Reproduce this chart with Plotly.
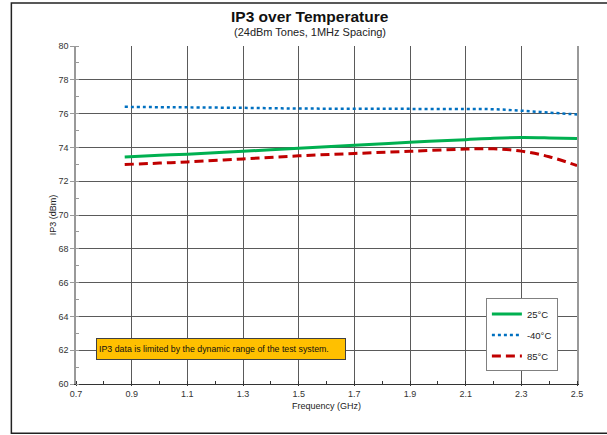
import plotly.graph_objects as go

# frequency points (GHz)
freq = [0.875, 1.0, 1.1, 1.3, 1.5, 1.7, 1.9, 2.1, 2.2, 2.3, 2.4, 2.5]

# IP3 (dBm) per temperature
ip3_25 = [73.43, 73.53, 73.60, 73.77, 73.95, 74.12, 74.30, 74.46, 74.54, 74.58, 74.56, 74.52]
ip3_m40 = [76.40, 76.38, 76.37, 76.34, 76.30, 76.29, 76.28, 76.27, 76.26, 76.17, 76.06, 75.95]
ip3_85 = [72.99, 73.07, 73.14, 73.32, 73.50, 73.64, 73.77, 73.90, 73.92, 73.78, 73.45, 72.92]

x_ticks = [0.7, 0.9, 1.1, 1.3, 1.5, 1.7, 1.9, 2.1, 2.3, 2.5]
y_ticks = [60, 62, 64, 66, 68, 70, 72, 74, 76, 78, 80]

font_family = "Liberation Sans, Arial, sans-serif"

fig = go.Figure()

fig.add_trace(go.Scatter(x=freq, y=ip3_25, mode='lines', name='25°C', legendgroup='a',
                         line=dict(color='#00B050', width=3, shape='spline')))
fig.add_trace(go.Scatter(x=freq, y=ip3_m40, mode='lines', name='-40°C', legendgroup='b',
                         line=dict(color='#0070C0', width=2.5, dash='dot', shape='spline')))
fig.add_trace(go.Scatter(x=freq, y=ip3_85, mode='lines', name='85°C', legendgroup='c',
                         line=dict(color='#C00000', width=3, dash='9px,5px', shape='spline')))

# chart title + subtitle (centred on the whole chart area, not the plot)
fig.add_annotation(text='<b>IP3 over Temperature</b>', xref='paper', yref='paper',
                   x=0.468, y=1.088, xanchor='center', yanchor='middle', showarrow=False,
                   font=dict(size=15.5, color='#111', family=font_family))
fig.add_annotation(text='(24dBm Tones, 1MHz Spacing)', xref='paper', yref='paper',
                   x=0.468, y=1.041, xanchor='center', yanchor='middle', showarrow=False,
                   font=dict(size=11, color='#222', family=font_family))

# note box
fig.add_annotation(text='IP3 data is limited by the dynamic range of the test system.',
                   xref='paper', yref='paper', x=0.2894, y=0.103,
                   xanchor='center', yanchor='middle', showarrow=False,
                   width=244, height=16, align='left', borderpad=2,
                   bgcolor='#FFC000', bordercolor='#404040', borderwidth=1,
                   font=dict(size=8.8, color='#111', family=font_family))

# outer chart border
fig.add_shape(type='rect', xref='paper', yref='paper',
              x0=-0.129, x1=1.08, y0=-0.146, y1=1.127,
              line=dict(color='#222', width=1.5))

fig.update_layout(
    width=607, height=435,
    margin=dict(l=76, r=30, t=46, b=51),
    paper_bgcolor='white', plot_bgcolor='white',
    font=dict(family=font_family, size=9, color='#333'),
    showlegend=True,
    legend=dict(x=0.89, y=0.145, xanchor='center', yanchor='middle',
                bgcolor='white', bordercolor='#808080', borderwidth=1,
                font=dict(size=9.5, color='#222'), tracegroupgap=2,
                itemwidth=30),
    xaxis=dict(range=[0.7, 2.5], tickvals=x_ticks, ticktext=[str(v) for v in x_ticks],
               showgrid=True, gridcolor='#5a5a5a', gridwidth=1,
               showline=True, linecolor='#333', linewidth=1, mirror=False,
               ticks='outside', ticklen=1, tickcolor='#333',
               minor=dict(dtick=0.1, tick0=0.7, ticks='inside', ticklen=3, tickcolor='#333', showgrid=False),
               title=dict(text='Frequency (GHz)', font=dict(size=9, color='#222'), standoff=4),
               zeroline=False, fixedrange=True),
    yaxis=dict(range=[60, 80], tickvals=y_ticks,
               showgrid=True, gridcolor='#5a5a5a', gridwidth=1,
               showline=True, linecolor='#999', linewidth=1.5, mirror=True,
               ticks='outside', ticklen=4, tickcolor='#999',
               minor=dict(dtick=1, tick0=60, ticks='inside', ticklen=3, tickcolor='#999', showgrid=False),
               title=dict(text='IP3 (dBm)', font=dict(size=9, color='#222'), standoff=0),
               zeroline=False, fixedrange=True),
)

# drop the default 8px page margin so the figure sits at the window corner
fig.write_html("out.html", config={'displayModeBar': False},
               post_script="document.body.style.margin='0';document.body.style.overflow='hidden';")
